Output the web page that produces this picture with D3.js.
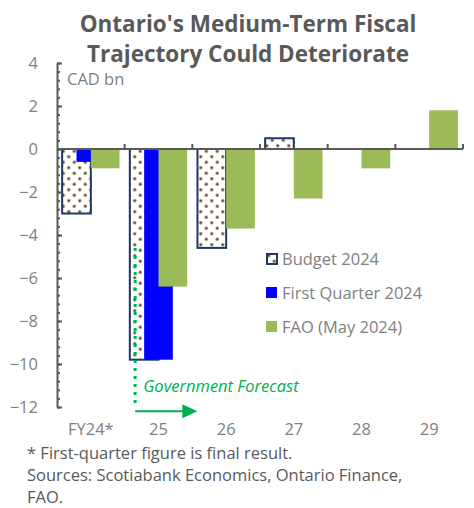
<!DOCTYPE html>
<html lang="en">
<head>
	<meta charset="utf-8">
	<title>Ontario Fiscal Trajectory</title>
	<script src="https://cdn.jsdelivr.net/npm/d3@7"></script>
	<style>
		body { margin: 0; background: white; }
		text { font-family: "Open Sans", sans-serif; }
	</style>
</head>
<body>
	<script>
		var w = 474;
		var h = 508;

		// fiscal years and balances, CAD bn
		var years = ["FY24*", "25", "26", "27", "28", "29"];
		var budget2024 = [-3.0, -9.8, -4.6, 0.5, null, null];
		var firstQuarter2024 = [-0.6, -9.8, null, null, null, null];
		var faoMay2024 = [-0.9, -6.4, -3.7, -2.3, -0.9, 1.8];
		var seriesNames = ["Budget 2024", "First Quarter 2024", "FAO (May 2024)"];
		var yTicks = [4, 2, 0, -2, -4, -6, -8, -10, -12];

		var grey = "#595959";
		var navy = "#1F3864";
		var fs = 16.5;

		var svg = d3.select("body")
					.append("svg")
					.attr("width", w)
					.attr("height", h);

		// dotted fill used by the budget bars
		var pattern = svg.append("defs")
						 .append("pattern")
						 .attr("id", "dots")
						 .attr("patternUnits", "userSpaceOnUse")
						 .attr("width", 11)
						 .attr("height", 11);
		pattern.append("rect")
			   .attr("width", 11).attr("height", 11).attr("fill", "white");
		[[2.75, 2.75], [8.25, 8.25]].forEach(function(p) {
			pattern.append("circle")
				   .attr("cx", p[0]).attr("cy", p[1]).attr("r", 1.9)
				   .attr("fill", "#b5aa90");
			pattern.append("circle")
				   .attr("cx", p[0]).attr("cy", p[1]).attr("r", 1.1)
				   .attr("fill", "#5e5030");
		});

		var x = d3.scaleBand().domain(years).range([57, 463]);
		var y = d3.scaleLinear().domain([-12, 4]).range([407, 63]);

		// bars overlap by half their width, like the original spreadsheet chart
		var barW = x.bandwidth() * 0.424;
		var gap = (x.bandwidth() - 2 * barW) / 2;

		var series = [
			{ values: budget2024, fill: "url(#dots)", stroke: navy },
			{ values: firstQuarter2024, fill: "#0000FF", stroke: "none" },
			{ values: faoMay2024, fill: "#9BBB59", stroke: "none" }
		];

		// title
		svg.append("text")
		   .attr("x", 248).attr("y", 0)
		   .attr("text-anchor", "middle")
		   .attr("fill", grey)
		   .attr("font-weight", "bold")
		   .attr("font-size", 22.5)
		   .selectAll("tspan")
		   .data(["Ontario's Medium-Term Fiscal", "Trajectory Could Deteriorate"])
		   .enter()
		   .append("tspan")
		   .attr("x", 248)
		   .attr("y", function(d, i) { return 32 + i * 30; })
		   .text(function(d) { return d; });

		// bars
		series.forEach(function(s, si) {
			svg.append("g")
			   .selectAll("rect")
			   .data(years.map(function(c, i) { return { year: c, v: s.values[i] }; })
			              .filter(function(d) { return d.v !== null; }))
			   .enter()
			   .append("rect")
			   .attr("x", function(d) { return x(d.year) + gap + si * barW / 2; })
			   .attr("y", function(d) { return y(Math.max(0, d.v)); })
			   .attr("width", barW)
			   .attr("height", function(d) { return Math.abs(y(d.v) - y(0)); })
			   .attr("fill", s.fill)
			   .attr("stroke", s.stroke)
			   .attr("stroke-width", si === 0 ? 2 : 0);
		});

		// y axis: minor ticks every 0.4, major every 2
		svg.append("g")
		   .attr("transform", "translate(57,0)")
		   .call(d3.axisLeft(y).tickValues(d3.range(-12, 4.01, 0.4)).tickSize(-3).tickSizeOuter(0).tickFormat(""))
		   .call(function(g) {
			   g.select(".domain").attr("stroke", grey).attr("stroke-width", 2);
			   g.selectAll(".tick line").attr("stroke", grey).attr("stroke-width", 2);
		   });

		svg.append("g")
		   .attr("transform", "translate(57,0)")
		   .call(d3.axisLeft(y).tickValues(yTicks).tickSize(-5).tickPadding(19).tickSizeOuter(0))
		   .call(function(g) {
			   g.select(".domain").remove();
			   g.selectAll(".tick line").attr("stroke", grey).attr("stroke-width", 2);
			   g.selectAll(".tick text")
				.attr("fill", "#7f7f7f")
				.attr("font-size", fs);
		   });

		// x axis line at zero with upward ticks on category boundaries
		svg.append("line")
		   .attr("x1", x.range()[0]).attr("x2", x.range()[1])
		   .attr("y1", y(0)).attr("y2", y(0))
		   .attr("stroke", grey).attr("stroke-width", 2);

		svg.append("g")
		   .selectAll("line")
		   .data(years)
		   .enter()
		   .append("line")
		   .attr("x1", function(d) { return x(d) + x.bandwidth(); })
		   .attr("x2", function(d) { return x(d) + x.bandwidth(); })
		   .attr("y1", y(0))
		   .attr("y2", y(0) - 5)
		   .attr("stroke", grey).attr("stroke-width", 2);

		svg.append("g")
		   .selectAll("text")
		   .data(years)
		   .enter()
		   .append("text")
		   .attr("x", function(d) { return x(d) + x.bandwidth() / 2; })
		   .attr("y", 435)
		   .attr("text-anchor", "middle")
		   .attr("fill", "#7f7f7f")
		   .attr("font-size", fs)
		   .text(function(d) { return d; });

		svg.append("text")
		   .attr("x", 67).attr("y", 85)
		   .attr("fill", "#7f7f7f")
		   .attr("font-size", fs)
		   .text("CAD bn");

		// government forecast marker
		var gx = x("25") + 10.5;
		svg.append("line")
		   .attr("x1", gx).attr("x2", gx)
		   .attr("y1", y(-4.6)).attr("y2", y(-12.05))
		   .attr("stroke", "#00B050").attr("stroke-width", 3)
		   .attr("stroke-dasharray", "3,5");
		var ay = y(-12.2);
		var ax = x("26") + 5;
		svg.append("line")
		   .attr("x1", gx).attr("x2", ax - 12)
		   .attr("y1", ay).attr("y2", ay)
		   .attr("stroke", "#00B050").attr("stroke-width", 2);
		svg.append("path")
		   .attr("d", "M" + (ax - 15) + "," + (ay - 7) + "L" + ax + "," + ay + "L" + (ax - 15) + "," + (ay + 7) + "Z")
		   .attr("fill", "#00B050");
		svg.append("text")
		   .attr("x", gx + 8).attr("y", y(-11.3))
		   .attr("fill", "#00B050")
		   .attr("font-style", "italic")
		   .attr("font-size", fs)
		   .text("Government Forecast");

		// legend
		var legend = svg.append("g")
						.attr("transform", "translate(266,253)");
		var rows = legend.selectAll("g")
						 .data(seriesNames)
						 .enter()
						 .append("g")
						 .attr("transform", function(d, i) { return "translate(0," + (i * 34) + ")"; });
		rows.append("rect")
			.attr("x", function(d, i) { return i === 0 ? 1 : 0; })
			.attr("y", function(d, i) { return i === 0 ? 1 : 0; })
			.attr("width", function(d, i) { return i === 0 ? 10 : 11; })
			.attr("height", function(d, i) { return i === 0 ? 10 : 11; })
			.attr("fill", function(d, i) { return series[i].fill; })
			.attr("stroke", function(d, i) { return series[i].stroke; })
			.attr("stroke-width", 2);
		rows.append("text")
			.attr("x", 16).attr("y", 12)
			.attr("fill", "#7f7f7f")
			.attr("font-size", fs)
			.text(function(d) { return d; });

		// footnotes
		var notes = ["* First-quarter figure is final result.",
					 "Sources: Scotiabank Economics, Ontario Finance,",
					 "FAO."];
		svg.append("g")
		   .selectAll("text")
		   .data(notes)
		   .enter()
		   .append("text")
		   .attr("x", 27)
		   .attr("y", function(d, i) { return 459 + i * 22; })
		   .attr("fill", grey)
		   .attr("font-size", fs)
		   .text(function(d) { return d; });
	</script>
</body>
</html>
